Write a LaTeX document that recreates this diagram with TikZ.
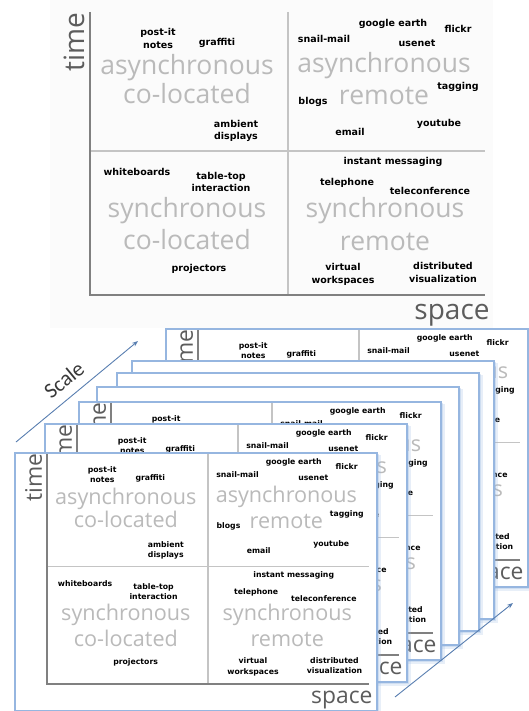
\documentclass[tikz,border=0pt]{standalone}
\usepackage{fontspec}
\setmainfont{Open Sans}
\newfontfamily\lblfont{DejaVu Sans}
\newfontfamily\capfont{Carlito}
\usetikzlibrary{arrows.meta}

\definecolor{quadgray}{RGB}{186,186,186}
\definecolor{axisgray}{RGB}{128,128,128}
\definecolor{midgray}{RGB}{196,196,196}
\definecolor{axislabel}{RGB}{92,92,92}
\definecolor{cardblue}{RGB}{150,182,224}
\definecolor{arrowblue}{RGB}{88,126,176}
\definecolor{panelbg}{RGB}{251,251,251}

\tikzset{
  lbl/.style={font=\lblfont\bfseries\fontsize{9.5}{12.5}\selectfont, align=center, inner sep=0pt, text=black},
  quad/.style={font=\fontsize{26.5}{26.5}\selectfont, text=quadgray, inner sep=0pt, anchor=base},
  axlbl/.style={font=\fontsize{28}{28}\selectfont, text=axislabel, inner sep=0pt, anchor=base},
  axisline/.style={draw=axisgray, line width=2pt},
  midline/.style={draw=midgray, line width=1.5pt},
  cardedge/.style={draw=cardblue, line width=1.2pt},
  scalearrow/.style={draw=arrowblue, line width=0.9pt, -{Stealth[length=6pt,width=4.5pt]}},
}

% the space/time quadrant chart, in its own unit frame
\newcommand\quadrantchart{%
  \coordinate (ytop) at (90,12);
  \coordinate (origin) at (90,295);
  \coordinate (xend) at (485,295);
  \coordinate (midtop) at (288,12);
  \coordinate (midbot) at (288,295);
  \coordinate (midleft) at (90,151);
  \coordinate (midright) at (485,151);
  \draw[midline] (midtop) -- (midbot);
  \draw[midline] (midleft) -- (midright);
  \draw[axisline] (ytop) -- (origin) -- (xend);
  \node[axlbl, rotate=90] (time) at (84,42) {time};
  \node[axlbl] (space) at (452,319) {space};
  % asynchronous / co-located
  \node[quad] (aTL) at (187,75) {asynchronous};
  \node[quad] (cTL) at (187,104) {co-located};
  \node[lbl] (postit) at (158,38.5) {post-it\\notes};
  \node[lbl] (graffiti) at (217,43) {graffiti};
  \node[lbl] (ambient) at (236,131) {ambient\\displays};
  % asynchronous / remote
  \node[quad] (aTR) at (384,73) {asynchronous};
  \node[quad] (rTR) at (384,105) {remote};
  \node[lbl] (gearth) at (393,24) {google earth};
  \node[lbl] (flickr) at (458,29) {flickr};
  \node[lbl] (snail) at (324,39) {snail-mail};
  \node[lbl] (usenet) at (417,43) {usenet};
  \node[lbl] (tagging) at (458,87) {tagging};
  \node[lbl] (blogs) at (313,102) {blogs};
  \node[lbl] (youtube) at (439,124) {youtube};
  \node[lbl] (email) at (350,132) {email};
  % synchronous / co-located
  \node[quad] (sBL) at (187,218) {synchronous};
  \node[quad] (cBL) at (187,249) {co-located};
  \node[lbl] (whiteb) at (137,172) {whiteboards};
  \node[lbl] (tabletop) at (221,182) {table-top\\interaction};
  \node[lbl] (project) at (199,269) {projectors};
  % synchronous / remote
  \node[quad] (sBR) at (385,218) {synchronous};
  \node[quad] (rBR) at (385,250) {remote};
  \node[lbl] (instant) at (393,162) {instant messaging};
  \node[lbl] (phone) at (347,183) {telephone};
  \node[lbl] (teleconf) at (430,191) {teleconference};
  \node[lbl] (virtual) at (343,274.5) {virtual\\workspaces};
  \node[lbl] (distrib) at (443,272.5) {distributed\\visualization};
}

% a card: soft glow, white face, optional chart, blue edge
\newcommand\cardbase[2]{%
  \fill[cardblue, opacity=.22] (#1+2,#2+2) rectangle (#1+366,#2+262);
  \fill[cardblue, opacity=.30] (#1+1,#2+1) rectangle (#1+364,#2+260);
  \fill[white] (#1,#2) rectangle (#1+362,#2+258);
}
\newcommand\blankcard[2]{%
  \cardbase{#1}{#2}
  \draw[cardedge] (#1,#2) rectangle (#1+362,#2+258);
}
\newcommand\chartcard[3]{%
  \cardbase{#1}{#2}
  \begin{scope}[shift={(#1-41.565,#2-9.78)}, scale=.815, transform shape, name prefix=#3-]
    \clip (51,12) rectangle (495,329);
    \quadrantchart
  \end{scope}
  \draw[cardedge] (#1,#2) rectangle (#1+362,#2+258);
}

\begin{document}
\begin{tikzpicture}[x=1pt, y=-1pt]
  \useasboundingbox (0,0) rectangle (529,711);
  \fill[panelbg] (50,0) rectangle (493,328);
  \begin{scope}[name prefix=main-]
    \quadrantchart
  \end{scope}

  % stack of cards, back to front
  \chartcard{166}{329}{c6}
  \blankcard{132}{361}
  \blankcard{117}{373}
  \blankcard{97}{387}
  \chartcard{79}{402}{c2}
  \chartcard{45}{424}{c1}
  \chartcard{15}{453}{c0}

  % scale arrows
  \coordinate (sa0) at (16,442);
  \coordinate (sa1) at (138,341);
  \draw[scalearrow] (sa0) -- (sa1);
  \node[rotate=39.5, font=\capfont\fontsize{21.5}{21.5}\selectfont, text=black!78, inner sep=0pt] (scalelbl) at (64,380) {Scale};
  \coordinate (sb0) at (395,697);
  \coordinate (sb1) at (513,603);
  \draw[scalearrow] (sb0) -- (sb1);
\end{tikzpicture}
\end{document}
